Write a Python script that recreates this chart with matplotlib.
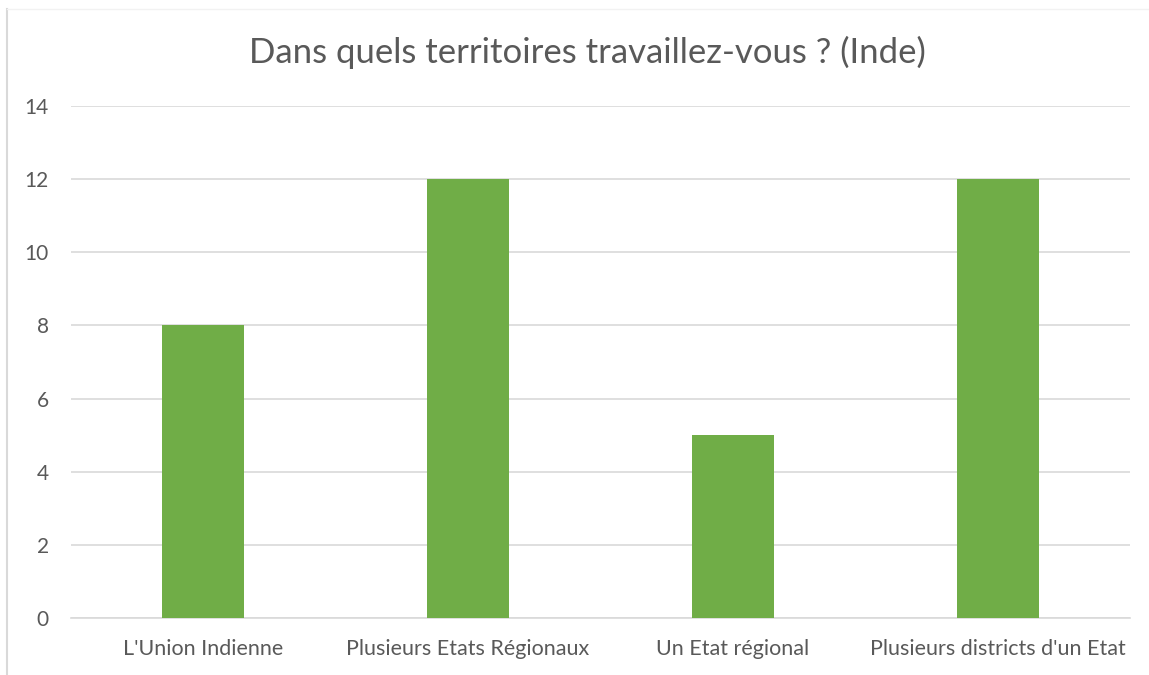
import numpy as np
import matplotlib.pyplot as plt
from matplotlib.lines import Line2D

# data
categories = ["L'Union Indienne", "Plusieurs Etats Régionaux", "Un Etat régional", "Plusieurs districts d'un Etat"]
values = [8, 12, 5, 12]
yticks = [0, 2, 4, 6, 8, 10, 12, 14]

plt.rcParams['font.family'] = ['Lato', 'DejaVu Sans']
txt = '#595959'

fig = plt.figure(figsize=(11.49, 6.75), dpi=100)
ax = fig.add_axes([71/1149, 1 - 618/675, (1130 - 71)/1149, (618 - 106)/675])

x = np.arange(len(categories))
ax.bar(x, values, width=0.31, color='#70AD47', zorder=3)

ax.set_xlim(-0.5, len(categories) - 0.5)
ax.set_ylim(0, 14)
ax.set_yticks(yticks)
ax.set_xticks(x)
ax.set_xticklabels(categories, fontsize=15.5)
ax.grid(axis='y', color='#D9D9D9', linewidth=1.2, zorder=0)
for s in ['top', 'right', 'left']:
    ax.spines[s].set_visible(False)
ax.spines['bottom'].set_color('#D9D9D9')
ax.spines['bottom'].set_linewidth(1.2)
ax.tick_params(axis='both', length=0, colors=txt)
ax.tick_params(axis='y', pad=16, labelsize=15)
ax.tick_params(axis='x', pad=15)

fig.text(587/1149, 1 - 52/675, "Dans quels territoires travaillez-vous ? (Inde)",
         ha='center', va='center', fontsize=25, color=txt)

# chart frame edges
fig.add_artist(Line2D([7/1149, 7/1149], [0, 1 - 9/675], color='#D9D9D9', linewidth=1.5))
fig.add_artist(Line2D([7/1149, 1], [1 - 9/675, 1 - 9/675], color='#F2F2F2', linewidth=1))

fig.savefig('out.png', dpi=100)
